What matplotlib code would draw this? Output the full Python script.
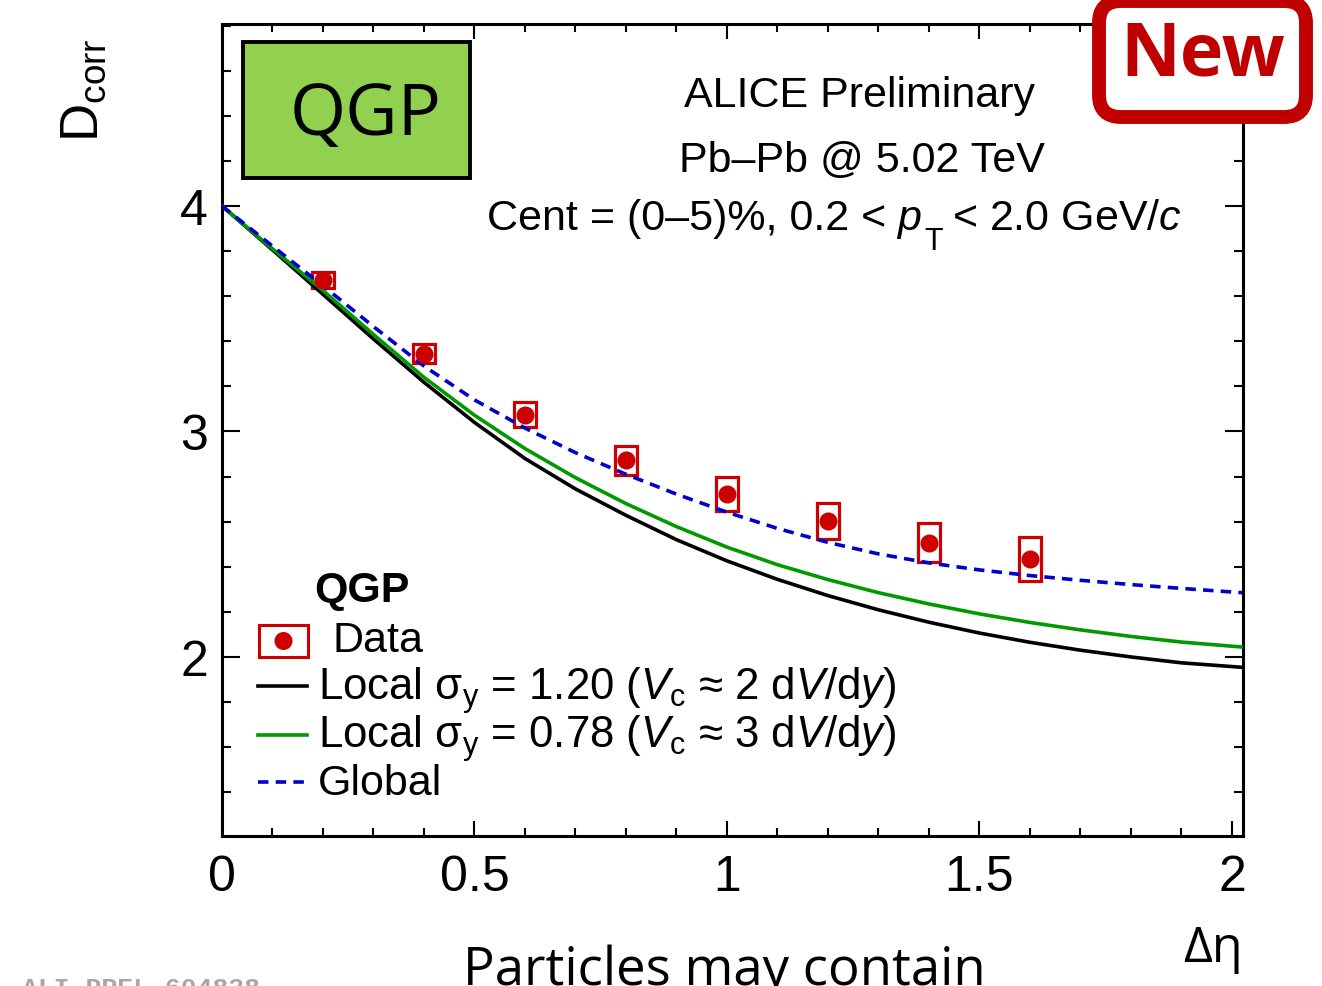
import matplotlib
matplotlib.use("Agg")
import matplotlib.pyplot as plt
from matplotlib.patches import Rectangle, FancyBboxPatch, Circle
from matplotlib.lines import Line2D
from matplotlib.ticker import MultipleLocator, FuncFormatter

plt.rcParams['font.family'] = ['Liberation Sans', 'DejaVu Sans']
plt.rcParams['mathtext.fontset'] = 'custom'
plt.rcParams['mathtext.rm'] = 'Liberation Sans'
plt.rcParams['mathtext.it'] = 'Liberation Sans:italic'
plt.rcParams['mathtext.bf'] = 'Liberation Sans:bold'

# measured points, Pb-Pb 0-5%
deta = [0.2, 0.4, 0.6, 0.8, 1.0, 1.2, 1.4, 1.6]
dcorr = [3.672, 3.345, 3.075, 2.872, 2.723, 2.602, 2.507, 2.435]
dcorr_sys = [0.037, 0.043, 0.054, 0.065, 0.074, 0.079, 0.087, 0.099]

# model curves
curve_x = [0, 0.1, 0.2, 0.3, 0.4, 0.5, 0.6, 0.7, 0.8, 0.9, 1.0,
           1.1, 1.2, 1.3, 1.4, 1.5, 1.6, 1.7, 1.8, 1.9, 2.02]
local_120 = [4.0, 3.805, 3.608, 3.41, 3.218, 3.04, 2.88, 2.745, 2.628, 2.52, 2.426,
             2.344, 2.272, 2.209, 2.154, 2.106, 2.065, 2.03, 2.0, 1.974, 1.954]
local_078 = [4.0, 3.81, 3.625, 3.43, 3.24, 3.072, 2.924, 2.795, 2.68, 2.578, 2.487,
             2.409, 2.343, 2.285, 2.235, 2.191, 2.153, 2.12, 2.091, 2.066, 2.044]
global_ = [4.0, 3.822, 3.646, 3.465, 3.29, 3.14, 3.015, 2.906, 2.81, 2.722, 2.642,
           2.57, 2.508, 2.457, 2.417, 2.386, 2.361, 2.34, 2.321, 2.304, 2.285]

red = '#cc0000'
green = '#009900'
blue = '#0000cc'

W, H = 1322, 987
fig = plt.figure(figsize=(W / 100, H / 100), dpi=100)
ax = fig.add_axes([222 / W, 1 - 837 / H, (1243 - 222) / W, (837 - 25) / H])

ax.plot(curve_x, local_120, color='k', lw=2.6, zorder=3)
ax.plot(curve_x, local_078, color=green, lw=2.6, zorder=3)
ax.plot(curve_x, global_, color=blue, lw=2.6, dashes=(2.9, 2.0), zorder=3)

for x, y, s in zip(deta, dcorr, dcorr_sys):
    ax.add_patch(Rectangle((x - 0.022, y - s), 0.044, 2 * s, fill=False,
                           ec=red, lw=2.3, zorder=2))
ax.plot(deta, dcorr, 'o', color=red, ms=13, mew=0, zorder=4)

ax.set_xlim(0, 2.0218)
ax.set_ylim(1.206, 4.807)
ax.xaxis.set_major_locator(MultipleLocator(0.5))
ax.xaxis.set_minor_locator(MultipleLocator(0.1))
ax.yaxis.set_major_locator(MultipleLocator(1))
ax.yaxis.set_minor_locator(MultipleLocator(0.2))
fmt = FuncFormatter(lambda v, p: '%g' % v)
ax.xaxis.set_major_formatter(fmt)
ax.yaxis.set_major_formatter(fmt)
ax.tick_params(axis='x', which='major', direction='in', length=10.5, width=1.5,
               top=True, labelsize=36, pad=13)
ax.tick_params(axis='x', which='minor', direction='in', length=5.5, width=1.5, top=True)
ax.tick_params(axis='y', which='major', direction='in', length=13, width=1.5,
               right=True, labelsize=36, pad=10)
ax.tick_params(axis='y', which='minor', direction='in', length=6.5, width=1.5, right=True)
for sp in ax.spines.values():
    sp.set_linewidth(2.2)

# overlay in pixel coordinates for annotations
ov = fig.add_axes([0, 0, 1, 1], zorder=5)
ov.set_xlim(0, W)
ov.set_ylim(H, 0)
ov.axis('off')

ov.text(84, 38, r'D$_{\rm corr}$', rotation=90, ha='center', va='top', fontsize=38)

ov.add_patch(Rectangle((243, 43), 227, 136, fc='#92d050', ec='k', lw=2.8))
ov.text(366, 116, 'QGP', ha='center', va='center', fontsize=52, family='Open Sans')

ov.add_patch(FancyBboxPatch((1099, 2), 207, 116, boxstyle='round,pad=0,rounding_size=22',
                            fc='white', ec='#c00000', lw=10))
ov.text(1203, 56, 'New', ha='center', va='center', fontsize=53, color='#c00000',
        family='Open Sans', weight='bold')

ov.text(860, 107, 'ALICE Preliminary', ha='center', va='baseline', fontsize=31)
ov.text(862, 172, 'Pb–Pb @ 5.02 TeV', ha='center', va='baseline', fontsize=31)
ov.text(487, 230, 'Cent = (0–5)%, 0.2 <', ha='left', va='baseline', fontsize=31)
ov.text(897, 230, 'p', ha='left', va='baseline', fontsize=31, style='italic')
ov.text(924, 250, 'T', ha='left', va='baseline', fontsize=22)
ov.text(952, 230, r'< 2.0 GeV/$c$', ha='left', va='baseline', fontsize=31)

# legend
ov.text(314, 602, 'QGP', ha='left', va='baseline', fontsize=31, weight='bold')
ov.add_patch(Rectangle((259, 626), 49, 32, fill=False, ec=red, lw=2.2))
ov.add_patch(Circle((283.5, 642), 9, fc=red, ec='none'))
ov.text(332, 652, 'Data', ha='left', va='baseline', fontsize=31)
ov.add_line(Line2D([258, 307], [687, 687], color='k', lw=2.6))
ov.text(318, 700, r'Local σ$_{\rm y}$ = 1.20 ($V_{\rm c}$ ≈ 2 d$V$/d$y$)', ha='left',
        va='baseline', fontsize=31.5)
ov.add_line(Line2D([258, 307], [736, 736], color=green, lw=2.6))
ov.text(318, 748, r'Local σ$_{\rm y}$ = 0.78 ($V_{\rm c}$ ≈ 3 d$V$/d$y$)', ha='left',
        va='baseline', fontsize=31.5)
ov.add_line(Line2D([258, 307], [783, 783], color=blue, lw=2.6, dashes=(2.9, 2.0)))
ov.text(318, 795, 'Global', ha='left', va='baseline', fontsize=31)

ov.text(1243, 962, 'Δη', ha='right', va='baseline', fontsize=36, family='Open Sans')
ov.text(724, 945, 'Particles may contain', ha='center', va='top', fontsize=38,
        family='Open Sans')
ov.text(22, 977, 'ALI-PREL-604838', ha='left', va='top', fontsize=19,
        family='Liberation Mono', weight='bold', color='#a8a8a8')

fig.savefig('out.png', dpi=100)
